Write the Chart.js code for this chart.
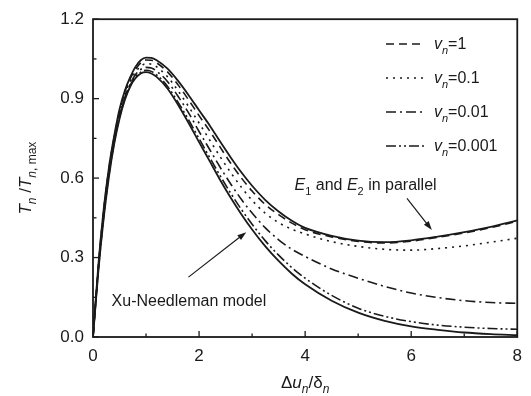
<!DOCTYPE html>
<html>
<head>
<meta charset="utf-8">
<script src="https://cdn.jsdelivr.net/npm/chart.js@4.4.0/dist/chart.umd.min.js"></script>
<style>
    html, body { margin: 0; padding: 0; background: #fff; }
    #contenedor { width: 531px; height: 396px; }
</style>
</head>
<body>
<div id="contenedor"><canvas id="grafico" width="531" height="396"></canvas></div>
<script>
// desplazamiento normalizado (eje x)
var desplazamiento = [0, 0.1, 0.2, 0.3, 0.4, 0.5, 0.6, 0.7, 0.8, 0.9, 1.0, 1.1, 1.2, 1.4, 1.6, 1.8, 2.0, 2.2, 2.4, 2.6, 2.8, 3.0, 3.25, 3.5, 3.75, 4.0, 4.5, 5.0, 5.5, 6.0, 6.5, 7.0, 7.5, 8.0];

// E1 y E2 en paralelo (linea continua superior)
var paralelo = [0, 0.27, 0.48, 0.64, 0.76, 0.86, 0.93, 0.98, 1.02, 1.045, 1.055, 1.054, 1.045, 1.014, 0.968, 0.914, 0.856, 0.799, 0.737, 0.677, 0.621, 0.571, 0.517, 0.474, 0.439, 0.412, 0.382, 0.364, 0.358, 0.365, 0.379, 0.396, 0.416, 0.44];
var vn1 = [0, 0.265, 0.475, 0.635, 0.755, 0.85, 0.925, 0.975, 1.01, 1.035, 1.046, 1.045, 1.035, 1.002, 0.953, 0.896, 0.836, 0.778, 0.716, 0.655, 0.60, 0.551, 0.50, 0.462, 0.43, 0.405, 0.378, 0.361, 0.355, 0.362, 0.376, 0.393, 0.413, 0.437];
var vn01 = [0, 0.26, 0.47, 0.63, 0.75, 0.845, 0.915, 0.965, 1.0, 1.022, 1.032, 1.03, 1.02, 0.984, 0.931, 0.871, 0.808, 0.744, 0.68, 0.62, 0.565, 0.516, 0.467, 0.432, 0.407, 0.389, 0.36, 0.342, 0.331, 0.328, 0.334, 0.344, 0.358, 0.373];
var vn001 = [0, 0.255, 0.46, 0.62, 0.74, 0.835, 0.905, 0.955, 0.99, 1.01, 1.018, 1.016, 1.004, 0.966, 0.91, 0.847, 0.776, 0.708, 0.64, 0.577, 0.519, 0.468, 0.412, 0.367, 0.331, 0.304, 0.257, 0.222, 0.191, 0.166, 0.149, 0.137, 0.130, 0.127];
var vn0001 = [0, 0.25, 0.452, 0.612, 0.735, 0.83, 0.9, 0.95, 0.983, 1.0, 1.007, 1.003, 0.99, 0.948, 0.888, 0.821, 0.749, 0.678, 0.608, 0.542, 0.481, 0.426, 0.363, 0.309, 0.262, 0.222, 0.157, 0.109, 0.078, 0.058, 0.045, 0.037, 0.032, 0.029];
// modelo de Xu-Needleman (linea continua inferior)
var xuNeedleman = [0, 0.246, 0.445, 0.604, 0.729, 0.824, 0.895, 0.945, 0.977, 0.995, 1.0, 0.995, 0.982, 0.939, 0.878, 0.809, 0.736, 0.664, 0.592, 0.525, 0.463, 0.406, 0.342, 0.287, 0.239, 0.199, 0.137, 0.092, 0.061, 0.040, 0.027, 0.017, 0.011, 0.007];

var ticksX = [0, 2, 4, 6, 8];
var ticksY = [0, 0.3, 0.6, 0.9, 1.2];
var leyenda = ['1', '0.1', '0.01', '0.001'];

var NEGRO = '#1a1a1a';
var FUENTE = '"Liberation Sans", Arial, sans-serif';

function puntos(valores) {
    return desplazamiento.map(function (x, i) { return { x: x, y: valores[i] }; });
}

function serie(valores, dash, ancho) {
    return {
        data: puntos(valores),
        borderColor: NEGRO,
        borderWidth: ancho,
        borderDash: dash,
        pointRadius: 0,
        fill: false,
        cubicInterpolationMode: 'monotone'
    };
}

var datos = {
    datasets: [
        serie(paralelo, [], 1.8),
        serie(xuNeedleman, [], 1.8),
        serie(vn1, [8, 5], 1.6),
        serie(vn01, [2, 5], 1.6),
        serie(vn001, [10, 4, 2, 4], 1.6),
        serie(vn0001, [10, 3, 2, 3, 2, 3], 1.6)
    ]
};

function fuente(p, tam) {
    var t = p[2] ? Math.round(tam * 0.7) : tam;
    return (p[1] ? 'italic ' : '') + t + 'px ' + FUENTE;
}

// partes: [texto, cursiva, subindice]
function textoRico(ctx, partes, x, y, tam, alinear) {
    var ancho = 0;
    partes.forEach(function (p) {
        ctx.font = fuente(p, tam);
        ancho += ctx.measureText(p[0]).width;
    });
    var px = alinear === 'center' ? x - ancho / 2 : x;
    partes.forEach(function (p) {
        ctx.font = fuente(p, tam);
        ctx.fillText(p[0], px, y + (p[2] ? tam * 0.3 : 0));
        px += ctx.measureText(p[0]).width;
    });
}

function flecha(ctx, x1, y1, x2, y2) {
    var ang = Math.atan2(y2 - y1, x2 - x1);
    ctx.beginPath();
    ctx.moveTo(x1, y1);
    ctx.lineTo(x2 - 6 * Math.cos(ang), y2 - 6 * Math.sin(ang));
    ctx.stroke();
    ctx.beginPath();
    ctx.moveTo(x2, y2);
    ctx.lineTo(x2 - 9 * Math.cos(ang) + 3 * Math.sin(ang), y2 - 9 * Math.sin(ang) - 3 * Math.cos(ang));
    ctx.lineTo(x2 - 9 * Math.cos(ang) - 3 * Math.sin(ang), y2 - 9 * Math.sin(ang) + 3 * Math.cos(ang));
    ctx.closePath();
    ctx.fill();
}

var decoracion = {
    id: 'decoracion',
    afterDraw: function (chart) {
        var ctx = chart.ctx;
        var a = chart.chartArea;
        var sx = chart.scales.x, sy = chart.scales.y;
        ctx.save();
        ctx.strokeStyle = NEGRO;
        ctx.fillStyle = NEGRO;
        ctx.setLineDash([]);

        // marco
        ctx.lineWidth = 1.8;
        ctx.strokeRect(a.left, a.top, a.right - a.left, a.bottom - a.top);

        // marcas hacia dentro
        ctx.lineWidth = 1.3;
        for (var i = 0; i <= 8; i++) {
            var px = sx.getPixelForValue(i);
            var l = i % 2 === 0 ? 6 : 3.5;
            ctx.beginPath(); ctx.moveTo(px, a.bottom); ctx.lineTo(px, a.bottom - l); ctx.stroke();
        }
        for (var j = 0; j <= 8; j++) {
            var py = sy.getPixelForValue(j * 0.15);
            var l2 = j % 2 === 0 ? 6 : 3.5;
            ctx.beginPath(); ctx.moveTo(a.left, py); ctx.lineTo(a.left + l2, py); ctx.stroke();
        }

        // anotaciones
        ctx.lineWidth = 1.2;
        flecha(ctx, sx.getPixelForValue(1.8), sy.getPixelForValue(0.226), sx.getPixelForValue(2.89), sy.getPixelForValue(0.396));
        flecha(ctx, sx.getPixelForValue(5.92), sy.getPixelForValue(0.523), sx.getPixelForValue(6.39), sy.getPixelForValue(0.404));
        ctx.textBaseline = 'alphabetic';
        textoRico(ctx, [['Xu-Needleman model', false, false]], sx.getPixelForValue(0.35), sy.getPixelForValue(0.117), 16, 'left');
        textoRico(ctx, [['E', true, false], ['1', false, true], [' and ', false, false], ['E', true, false], ['2', false, true], [' in parallel', false, false]],
            sx.getPixelForValue(3.8), sy.getPixelForValue(0.555), 16, 'left');

        // leyenda
        var filas = [44, 78, 112, 146];
        var estilos = [datos.datasets[2], datos.datasets[3], datos.datasets[4], datos.datasets[5]];
        leyenda.forEach(function (txt, k) {
            ctx.lineWidth = 1.6;
            ctx.setLineDash(estilos[k].borderDash);
            ctx.beginPath(); ctx.moveTo(386, filas[k]); ctx.lineTo(425, filas[k]); ctx.stroke();
            ctx.setLineDash([]);
            textoRico(ctx, [['v', true, false], ['n', true, true], ['=' + txt, false, false]], 434, filas[k] + 5, 16, 'left');
        });

        // titulos de ejes
        textoRico(ctx, [['\u0394', false, false], ['u', true, false], ['n', true, true], ['/\u03b4', false, false], ['n', true, true]],
            (a.left + a.right) / 2, 388, 17, 'center');
        ctx.translate(31, (a.top + a.bottom) / 2);
        ctx.rotate(-Math.PI / 2);
        textoRico(ctx, [['T', true, false], ['n', true, true], [' /', false, false], ['T', true, false], ['n', true, true], [', max', false, true]],
            0, 0, 17, 'center');
        ctx.restore();
    }
};

var miGrafico = new Chart(document.getElementById('grafico').getContext('2d'), {
    type: 'line',
    data: datos,
    options: {
        responsive: false,
        animation: false,
        devicePixelRatio: 1,
        layout: { padding: { top: 19, right: 8, left: 0, bottom: 0 } },
        plugins: { legend: { display: false }, tooltip: { enabled: false } },
        scales: {
            x: {
                type: 'linear', min: 0, max: 8,
                afterBuildTicks: function (s) { s.ticks = ticksX.map(function (v) { return { value: v }; }); },
                ticks: { color: NEGRO, font: { size: 17, family: FUENTE }, padding: 9, maxRotation: 0 },
                grid: { display: false, drawTicks: false },
                border: { display: false },
                afterFit: function (s) { s.height = 59; }
            },
            y: {
                type: 'linear', min: 0, max: 1.2,
                afterBuildTicks: function (s) { s.ticks = ticksY.map(function (v) { return { value: v }; }); },
                ticks: { color: NEGRO, font: { size: 17, family: FUENTE }, padding: 9, callback: function (v) { return v.toFixed(1); } },
                grid: { display: false, drawTicks: false },
                border: { display: false },
                afterFit: function (s) { s.width = 93; }
            }
        }
    },
    plugins: [decoracion]
});
</script>
</body>
</html>
